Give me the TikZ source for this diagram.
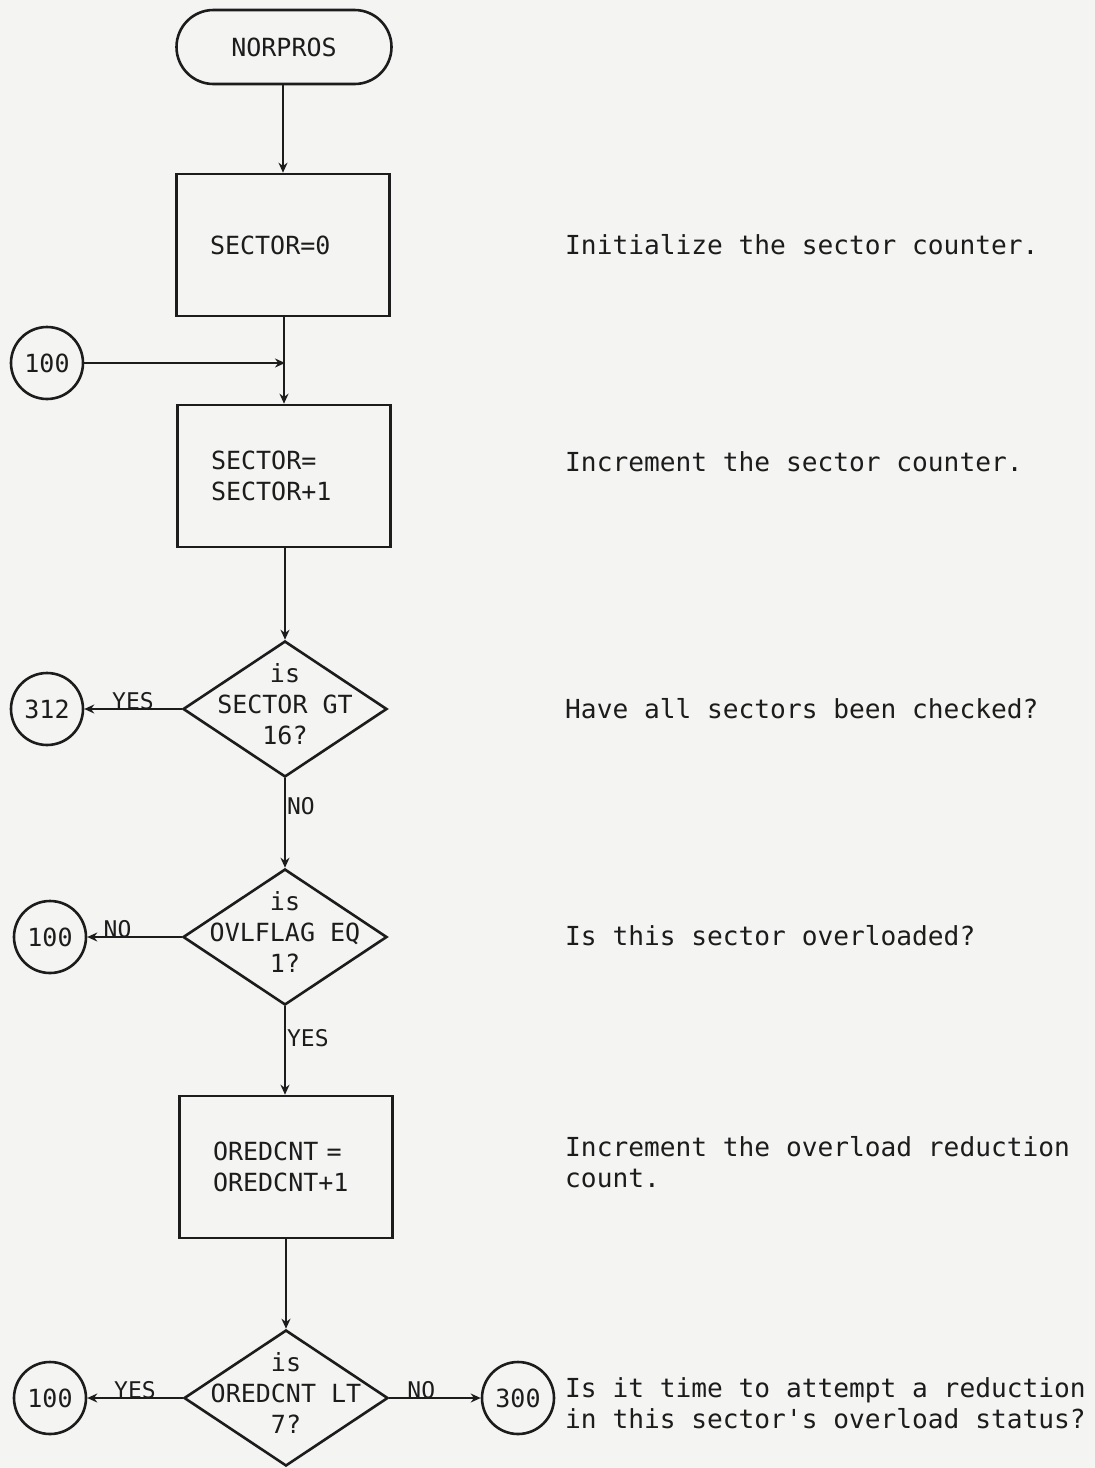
\documentclass[tikz,border=0pt]{standalone}
\usepackage{fontspec}
\setmonofont{DejaVu Sans Mono}
\usetikzlibrary{shapes.geometric,arrows.meta}
\definecolor{paper}{RGB}{244,244,243}
\definecolor{ink}{RGB}{28,28,28}
\begin{document}
\begin{tikzpicture}[x=1pt,y=-1pt,
  flow/.style={font=\ttfamily\fontsize{25}{31}\selectfont, text=ink},
  note/.style={font=\ttfamily\fontsize{26.2}{31}\selectfont, text=ink, anchor=west, align=left, inner sep=0pt},
  lab/.style={font=\ttfamily\fontsize{23}{27}\selectfont, text=ink, inner sep=1pt},
  term/.style={draw=ink, line width=2.6pt, rectangle, rounded corners=37pt, minimum width=215pt, minimum height=74pt, flow},
  proc/.style={draw=ink, line width=2.6pt, rectangle, minimum width=213pt, minimum height=142pt, text width=146pt, align=left, flow},
  dec/.style={draw=ink, line width=2.6pt, diamond, minimum width=204pt, minimum height=136pt, inner sep=0pt},
  dtext/.style={flow, align=center, yshift=5pt},
  conn/.style={draw=ink, line width=2.6pt, circle, minimum size=72pt, inner sep=0pt, flow},
  arr/.style={draw=ink, line width=2.2pt, -{Stealth[length=10pt,width=9pt]}}]
\fill[paper] (0,0) rectangle (1095,1468);
\useasboundingbox (0,0) rectangle (1095,1468);

% flow nodes
\node[term] (t) at (284,47) {NORPROS};
\node[proc] (b1) at (283,245) {SECTOR=0};
\node[proc] (b2) at (284,476) {SECTOR=\\SECTOR+1};
\node[dec, label={[dtext]center:is\\SECTOR GT\\16?}] (d1) at (285,709) {};
\node[dec, label={[dtext]center:is\\OVLFLAG EQ\\1?}] (d2) at (285,937) {};
\node[proc] (b3) at (286,1167) {OREDCNT =\\OREDCNT+1};
\node[dec, label={[dtext]center:is\\OREDCNT LT\\7?}] (d3) at (286,1398) {};

% connectors (off-page)
\node[conn] (c100a) at (47,363) {100};
\node[conn] (c312) at (47,709) {312};
\node[conn] (c100b) at (50,937) {100};
\node[conn] (c100c) at (50,1398) {100};
\node[conn] (c300) at (518,1398) {300};
\coordinate (j1) at (285,363);

% arrows
\draw[arr] (t.south -| b1.north) -- (b1.north);
\draw[arr] (b1.south -| b2.north) -- (b2.north);
\draw[arr] (c100a.east) -- (j1);
\draw[arr] (b2.south -| d1.north) -- (d1.north);
\draw[arr] (d1.west) -- node[lab, above, yshift=-3pt] {YES} (c312.east);
\draw[arr] (d1.south) -- node[lab, right, pos=0.31] {NO} (d2.north);
\draw[arr] (d2.west) -- node[lab, above, pos=0.68, yshift=-3pt] {NO} (c100b.east);
\draw[arr] (d2.south) -- node[lab, right, pos=0.36] {YES} (d2.south |- b3.north);
\draw[arr] (b3.south) -- (d3.north);
\draw[arr] (d3.west) -- node[lab, above, yshift=-3pt] {YES} (c100c.east);
\draw[arr] (d3.east) -- node[lab, above, pos=0.35, yshift=-3pt] {NO} (c300.west);

% annotations
\node[note] (n1) at (565,245) {Initialize the sector counter.};
\node[note] (n2) at (565,462) {Increment the sector counter.};
\node[note] (n3) at (565,709) {Have all sectors been checked?};
\node[note] (n4) at (565,936) {Is this sector overloaded?};
\node[note] (n5) at (565,1162) {Increment the overload reduction\\count.};
\node[note] (n6) at (565,1403) {Is it time to attempt a reduction\\in this sector's overload status?};
\end{tikzpicture}
\end{document}
